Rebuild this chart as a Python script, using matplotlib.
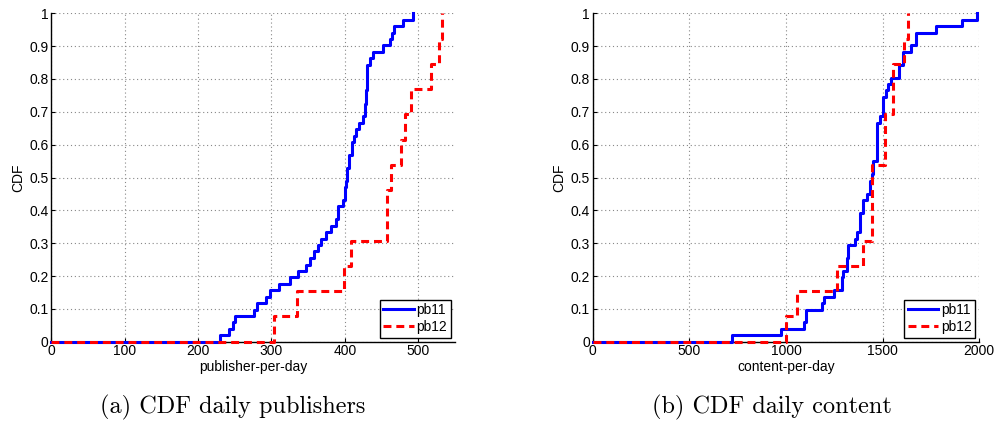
import matplotlib
matplotlib.use("Agg")
import matplotlib.pyplot as plt


# step points of the CDF curves (x where the step happens, level after it)
PUB_PB11_X = [0, 230, 242, 247, 251, 276, 280, 292, 298, 310, 326, 336, 347, 352,
              358, 364, 368, 374, 381, 388, 391, 397, 400, 402, 403, 406, 410, 413,
              416, 419, 425, 427, 429, 431, 434, 438, 452, 461, 464, 467, 479, 493]
PUB_PB11_Y = [0, 0.02, 0.04, 0.06, 0.078, 0.098, 0.118, 0.137, 0.157, 0.176, 0.196,
              0.216, 0.235, 0.255, 0.275, 0.294, 0.314, 0.333, 0.353, 0.373, 0.412,
              0.431, 0.471, 0.49, 0.529, 0.569, 0.608, 0.627, 0.647, 0.667, 0.686,
              0.725, 0.765, 0.843, 0.863, 0.882, 0.902, 0.922, 0.941, 0.961, 0.98, 1.0]

PUB_PB12_X = [0, 303, 335, 399, 408, 457, 463, 476, 482, 490, 518, 528, 533]
PUB_PB12_Y = [0, 0.077, 0.154, 0.231, 0.308, 0.462, 0.538, 0.615, 0.692, 0.769,
              0.846, 0.923, 1.0]

CON_PB11_X = [0, 719, 974, 1093, 1104, 1185, 1197, 1248, 1288, 1297, 1314, 1322,
              1357, 1369, 1383, 1400, 1417, 1434, 1443, 1452, 1472, 1486, 1503, 1517,
              1529, 1543, 1585, 1604, 1645, 1672, 1778, 1909, 1990]
CON_PB11_Y = [0, 0.02, 0.039, 0.059, 0.098, 0.118, 0.137, 0.157, 0.196, 0.216, 0.255,
              0.294, 0.314, 0.333, 0.392, 0.431, 0.451, 0.49, 0.51, 0.549, 0.667,
              0.686, 0.745, 0.765, 0.784, 0.804, 0.843, 0.882, 0.902, 0.941, 0.961,
              0.98, 1.0]

CON_PB12_X = [0, 1000, 1055, 1265, 1397, 1446, 1512, 1555, 1610, 1633]
CON_PB12_Y = [0, 0.077, 0.154, 0.231, 0.308, 0.538, 0.692, 0.846, 0.923, 1.0]

Y_TICKS = [0, 0.1, 0.2, 0.3, 0.4, 0.5, 0.6, 0.7, 0.8, 0.9, 1]
Y_TICK_LABELS = ["0", "0.1", "0.2", "0.3", "0.4", "0.5", "0.6", "0.7", "0.8", "0.9", "1"]
PUB_X_TICKS = [0, 100, 200, 300, 400, 500]
CON_X_TICKS = [0, 500, 1000, 1500, 2000]

SERIES_NAMES = ["pb11", "pb12"]

W, H = 997, 423
SANS = ["Liberation Sans", "DejaVu Sans"]


def style_axes(ax, xticks, xlim, xlabel):
    ax.set_xlim(*xlim)
    ax.set_ylim(0, 1)
    ax.set_xticks(xticks)
    ax.set_xticklabels([str(t) for t in xticks], family=SANS, fontsize=10)
    ax.set_yticks(Y_TICKS)
    ax.set_yticklabels(Y_TICK_LABELS, family=SANS, fontsize=10)
    ax.tick_params(direction="in", length=3, width=0.8, pad=2)
    ax.grid(True, linestyle=(0, (1, 2.5)), color="#888888", linewidth=0.8)
    for side in ["top", "right"]:
        ax.spines[side].set_visible(False)
    for side in ["left", "bottom"]:
        ax.spines[side].set_linewidth(1.0)
    ax.set_xlabel(xlabel, family=SANS, fontsize=10, labelpad=1)
    ax.set_ylabel("CDF", family=SANS, fontsize=10, labelpad=3)


def draw_panel(ax, x11, y11, x12, y12):
    ax.plot(x11, y11, drawstyle="steps-post", color="#0000ff", linewidth=2.2,
            label=SERIES_NAMES[0], clip_on=False, zorder=3)
    ax.plot(x12, y12, drawstyle="steps-post", color="#ff0000", linewidth=2.2,
            linestyle=(0, (2.6, 1.6)), label=SERIES_NAMES[1], clip_on=False, zorder=3)
    leg = ax.legend(loc="lower right", prop={"family": SANS, "size": 10},
                    fancybox=False, framealpha=1, edgecolor="black",
                    borderpad=0.25, handlelength=2.2, handletextpad=0.2,
                    labelspacing=0.2, borderaxespad=0.3)
    leg.get_frame().set_linewidth(1.0)


def main():
    fig = plt.figure(figsize=(W / 100, H / 100), dpi=100)

    ax1 = fig.add_axes([51.3 / W, (H - 341.7) / H, 403.5 / W, 328.4 / H])
    draw_panel(ax1, PUB_PB11_X, PUB_PB11_Y, PUB_PB12_X, PUB_PB12_Y)
    style_axes(ax1, PUB_X_TICKS, (0, 550), "publisher-per-day")

    ax2 = fig.add_axes([592.7 / W, (H - 341.7) / H, 386.6 / W, 328.4 / H])
    draw_panel(ax2, CON_PB11_X, CON_PB11_Y, CON_PB12_X, CON_PB12_Y)
    style_axes(ax2, CON_X_TICKS, (0, 2000), "content-per-day")

    fig.text(233 / W, 1 - 407 / H, "(a) CDF daily publishers", ha="center",
             va="center", family="cmr10", fontsize=17.5)
    fig.text(772 / W, 1 - 407 / H, "(b) CDF daily content", ha="center",
             va="center", family="cmr10", fontsize=17.5)

    fig.savefig("out.png", dpi=100)
    plt.close(fig)


if __name__ == "__main__":
    main()
